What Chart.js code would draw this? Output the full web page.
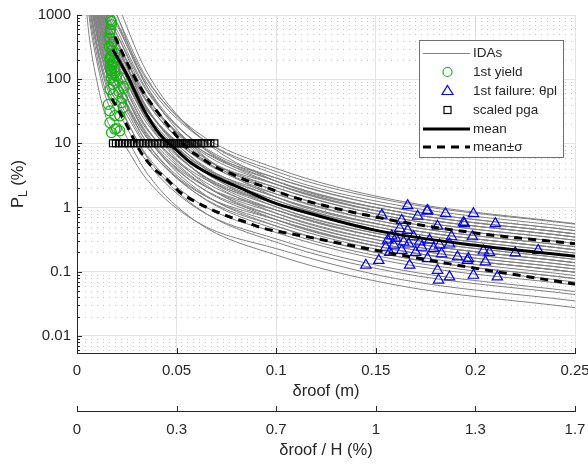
<!DOCTYPE html>
<html>
<head>
<meta charset="utf-8">
<title>IDA curves</title>
<script src="https://cdn.jsdelivr.net/npm/chart.js@4.4.1/dist/chart.umd.min.js"></script>
<style>
  html, body { margin: 0; padding: 0; background: #fff; }
  #wrap { width: 588px; height: 466px; }
</style>
</head>
<body>
<div id="wrap"><canvas id="myChart" width="588" height="466"></canvas></div>
<script>
// drift samples shared by all IDA curves (m)
const idaDrift = [0.003, 0.006, 0.01, 0.015, 0.022, 0.035, 0.06, 0.1, 0.16, 0.25];
// P_L (%) of each IDA curve at idaDrift
const idaCurves = [
  [5000, 501, 93, 23.4, 11.7, 2.75, 0.60, 0.229, 0.078, 0.035],
  [10000, 1000, 186, 46.8, 18.6, 3.47, 0.60, 0.182, 0.062, 0.0275],
  [12600, 1260, 234, 58.9, 25.6, 5.19, 0.98, 0.324, 0.110, 0.049],
  [15800, 1580, 295, 74, 32.2, 6.53, 1.24, 0.407, 0.138, 0.062],
  [20000, 2000, 372, 93, 35.1, 6.17, 1.01, 0.288, 0.098, 0.044],
  [25100, 2510, 468, 117, 48.1, 9.23, 1.65, 0.513, 0.174, 0.078],
  [28200, 2820, 525, 132, 54, 10.4, 1.85, 0.575, 0.195, 0.087],
  [31600, 3160, 589, 148, 62.4, 12.3, 2.26, 0.724, 0.245, 0.110],
  [35500, 3550, 661, 166, 60.6, 10.4, 1.65, 0.457, 0.155, 0.069],
  [39800, 3980, 741, 186, 76.3, 14.6, 2.62, 0.813, 0.275, 0.123],
  [44700, 4470, 832, 209, 78.5, 13.8, 2.26, 0.646, 0.219, 0.098],
  [50100, 5010, 933, 234, 93.3, 17.4, 3.02, 0.912, 0.309, 0.138],
  [56200, 5620, 1050, 263, 108, 20.7, 3.69, 1.15, 0.389, 0.174],
  [63100, 6310, 1175, 295, 105, 17.4, 2.69, 0.724, 0.245, 0.110],
  [70800, 7080, 1320, 331, 132, 24.5, 4.27, 1.29, 0.437, 0.195],
  [79400, 7940, 1480, 372, 136, 23.2, 3.69, 1.02, 0.347, 0.155],
  [89100, 8910, 1660, 417, 161, 29.2, 4.93, 1.45, 0.490, 0.219],
  [100000, 10000, 1860, 468, 166, 27.5, 4.27, 1.15, 0.389, 0.174],
  [100000, 10000, 1860, 468, 186, 34.7, 6.03, 1.82, 0.617, 0.275],
  [112000, 11200, 2090, 525, 171, 26, 3.69, 0.912, 0.309, 0.138],
  [126000, 12600, 2340, 589, 209, 34.7, 5.37, 1.45, 0.490, 0.219],
  [141000, 14100, 2630, 661, 248, 43.7, 7.16, 2.04, 0.692, 0.309],
  [158000, 15800, 2950, 741, 241, 36.7, 5.22, 1.29, 0.437, 0.195],
  [178000, 17800, 3310, 832, 304, 51.9, 8.27, 2.29, 0.776, 0.347],
  [200000, 20000, 3720, 933, 304, 46.2, 6.57, 1.62, 0.550, 0.245],
  [224000, 22400, 4170, 1050, 382, 65.3, 10.4, 2.88, 0.977, 0.437],
  [251000, 25100, 4680, 1175, 372, 55, 7.59, 1.82, 0.617, 0.275],
  [282000, 28200, 5250, 1320, 442, 69.2, 10.1, 2.57, 0.871, 0.389],
  [316000, 31600, 5890, 1480, 525, 87.1, 13.5, 3.63, 1.23, 0.550],
  [398000, 39800, 7410, 1860, 556, 77.6, 10.1, 2.29, 0.776, 0.347],
  [501000, 50100, 9330, 2340, 720, 104, 13.9, 3.24, 1.10, 0.490],
  [63100, 6310, 1175, 295, 128, 26, 4.93, 1.62, 0.550, 0.245],
  [126000, 12600, 2340, 589, 171, 23.2, 2.93, 0.646, 0.219, 0.098],
  [25100, 2510, 468, 117, 55.6, 12.3, 2.54, 0.912, 0.309, 0.138],
  [355000, 35500, 6610, 1660, 589, 97.7, 15.1, 4.07, 1.30, 0.56],
  [70800, 7080, 1320, 331, 152, 32.7, 6.57, 2.29, 0.776, 0.347],
  [1000000, 100000, 18600, 4680, 1140, 130, 13.9, 2.57, 0.871, 0.389],
  [631000, 63100, 11700, 2950, 700, 77.6, 8.04, 1.45, 0.49, 0.219],
  [50100, 5010, 933, 234, 80.8, 13, 1.96, 0.513, 0.174, 0.078],
  [158000, 15800, 2950, 741, 287, 51.9, 8.76, 2.57, 0.871, 0.389],
  [79400, 7940, 1480, 372, 161, 32.7, 6.2, 2.04, 0.692, 0.309],
  [200000, 20000, 3720, 933, 271, 36.7, 4.65, 1.02, 0.347, 0.155],
  [35500, 3550, 661, 166, 76.3, 16.4, 3.29, 1.15, 0.389, 0.174],
  [112000, 11200, 2090, 525, 228, 46.2, 8.76, 2.88, 0.977, 0.437],
  [141000, 14100, 2630, 661, 197, 27.5, 3.59, 0.813, 0.275, 0.123],
  [17800, 1780, 331, 83.2, 39.4, 8.71, 1.80, 0.646, 0.219, 0.098]
];

// 1st yield points
const yieldDrift = [0.0168, 0.0173, 0.0173, 0.0168, 0.0165, 0.0165, 0.0182, 0.0173, 0.0162, 0.0175,
  0.019, 0.017, 0.0165, 0.0165, 0.018, 0.0182, 0.0178, 0.0168, 0.019, 0.0168, 0.0173, 0.019,
  0.0175, 0.0198, 0.0173, 0.0223, 0.0185, 0.0182, 0.0232, 0.0235, 0.0165, 0.021, 0.0182, 0.0228,
  0.0223, 0.0157, 0.0232, 0.0165, 0.019, 0.0215, 0.0165, 0.0198, 0.019, 0.0215, 0.0173];
const yieldPL = [842, 794, 705, 590, 525, 437, 388, 347, 324, 280,
  256, 230, 214, 202, 190, 179, 169, 160, 150, 141, 133, 125,
  120, 111, 105, 105, 95, 83, 78, 72, 69, 64, 58, 51,
  43, 40.5, 36, 32, 27, 26.7, 21, 17, 16.6, 15.6, 14.7];

// 1st failure (theta pl) points
const failDrift = [0.166, 0.176, 0.185, 0.171, 0.153, 0.163, 0.1945, 0.181, 0.162, 0.166,
  0.1985, 0.169, 0.188, 0.177, 0.156, 0.16, 0.1665, 0.173, 0.182, 0.187, 0.163, 0.155, 0.183,
  0.191, 0.1965, 0.1515, 0.167, 0.181, 0.187, 0.1815, 0.199, 0.145, 0.211, 0.205, 0.21, 0.199,
  0.194, 0.204, 0.207, 0.22, 0.2315, 0.1757, 0.196, 0.158, 0.164, 0.172, 0.179, 0.17, 0.157,
  0.176, 0.159];
const failPL = [1.07, 0.90, 0.80, 0.73, 0.76, 0.63, 0.56, 0.51, 0.47, 0.44,
  0.35, 0.35, 0.35, 0.31, 0.31, 0.33, 0.27, 0.24, 0.26, 0.27, 0.215, 0.24, 0.19,
  0.17, 0.16, 0.15, 0.126, 0.105, 0.083, 0.074, 0.088, 0.126, 0.083, 0.142, 0.56, 0.80,
  0.58, 0.21, 0.20, 0.196, 0.215, 0.876, 0.15, 0.36, 0.29, 0.29, 0.23, 0.20, 0.20,
  0.16, 0.26];

// scaled pga points, all drawn at P_L = 10 %
const pgaDrift = [0.018, 0.0195, 0.021, 0.0225, 0.024, 0.0255, 0.027, 0.0285, 0.03, 0.0315,
  0.033, 0.0345, 0.036, 0.0375, 0.039, 0.0405, 0.042, 0.0435, 0.045, 0.046, 0.047, 0.048,
  0.049, 0.05, 0.051, 0.052, 0.053, 0.054, 0.055, 0.056, 0.057, 0.058, 0.059, 0.06, 0.061,
  0.0625, 0.064, 0.0655, 0.067, 0.069];
const pgaLevel = 10;

// mean and mean +/- sigma
const meanDrift = [0.018, 0.025, 0.033, 0.0415, 0.05, 0.058, 0.07, 0.083, 0.098, 0.1115, 0.15, 0.2, 0.25];
const meanPL = [290, 118, 35.8, 13.9, 7.8, 4.75, 2.95, 1.95, 1.21, 0.9, 0.44, 0.257, 0.174];
const upperDrift = [0.019, 0.0265, 0.033, 0.04, 0.048, 0.055, 0.062, 0.07, 0.078, 0.087, 0.095, 0.107, 0.15, 0.2, 0.25];
const upperPL = [460, 148, 65, 32, 15.6, 8.6, 6.0, 4.2, 3.3, 2.5, 2.06, 1.5, 0.71, 0.40, 0.273];
const lowerDrift = [0.0175, 0.024, 0.0317, 0.038, 0.045, 0.0517, 0.059, 0.0675, 0.076, 0.085, 0.093, 0.1115, 0.15, 0.2, 0.25];
const lowerPL = [50, 22, 7.6, 4.2, 2.8, 1.73, 1.25, 0.93, 0.725, 0.59, 0.48, 0.37, 0.215, 0.113, 0.064];

// axes
const xTicks = [0, 0.05, 0.1, 0.15, 0.2, 0.25];
const xTickLabels = ['0', '0.05', '0.1', '0.15', '0.2', '0.25'];
const ratioTickLabels = ['0', '0.3', '0.7', '1', '1.3', '1.7'];
const yTicks = [0.01, 0.1, 1, 10, 100, 1000];
const yMin = 0.0054, yMax = 1000;

const FONT = '"Liberation Sans", Arial, Helvetica, sans-serif';
const TXT = '#262626';
const GRAY = 'rgb(128,128,128)';
const GREEN = 'rgb(20,180,20)';
const BLUE = 'rgb(0,0,255)';

function pts(xs, ys) {
  return xs.map((x, i) => ({ x: x, y: ys[i] }));
}

// minor grid values of the log axis
let minorY = [];
for (let e = -3; e <= 2; e++) {
  for (let k = 2; k <= 9; k++) {
    let v = k * Math.pow(10, e);
    if (v > yMin && v < yMax) minorY.push(v);
  }
}

let datasets = [];
idaCurves.forEach((c, i) => {
  datasets.push({
    label: 'IDA ' + (i + 1),
    data: pts(idaDrift, c),
    borderColor: GRAY,
    borderWidth: 1,
    pointRadius: 0,
    cubicInterpolationMode: 'monotone',
    clip: 0,
    order: 10
  });
});
datasets.push({
  label: '1st yield',
  data: pts(yieldDrift, yieldPL),
  showLine: false,
  pointStyle: 'circle',
  pointRadius: 5,
  pointBorderWidth: 1.2,
  pointBorderColor: GREEN,
  pointBackgroundColor: 'rgba(0,0,0,0)',
  order: 5
});
datasets.push({
  label: '1st failure: θpl',
  data: pts(failDrift, failPL),
  showLine: false,
  pointStyle: 'triangle',
  pointRadius: 6,
  pointBorderWidth: 1.2,
  pointBorderColor: BLUE,
  pointBackgroundColor: 'rgba(0,0,0,0)',
  order: 4
});
datasets.push({
  label: 'scaled pga',
  data: pgaDrift.map(x => ({ x: x, y: pgaLevel })),
  showLine: false,
  pointStyle: 'rect',
  pointRadius: 4.8,
  pointBorderWidth: 1.2,
  pointBorderColor: '#000',
  pointBackgroundColor: 'rgba(0,0,0,0)',
  order: 3
});
datasets.push({
  label: 'mean',
  data: pts(meanDrift, meanPL),
  borderColor: '#000',
  borderWidth: 3,
  pointRadius: 0,
  cubicInterpolationMode: 'monotone',
  clip: 0,
  order: 1
});
[[upperDrift, upperPL], [lowerDrift, lowerPL]].forEach(d => {
  datasets.push({
    label: 'mean±σ',
    data: pts(d[0], d[1]),
    borderColor: '#000',
    borderWidth: 3,
    borderDash: [8, 6],
    pointRadius: 0,
    cubicInterpolationMode: 'monotone',
    clip: 0,
    order: 0
  });
});

function drawLegend(ctx) {
  const bx = 419.5, by = 40.5, bw = 144, bh = 117;
  const rows = [53, 72, 91, 110, 129, 147];
  const lx0 = 423, lx1 = 470, mx = 447.5, tx = 473;
  ctx.save();
  ctx.fillStyle = '#fff';
  ctx.fillRect(bx, by, bw, bh);
  ctx.strokeStyle = '#6e6e6e';
  ctx.lineWidth = 1;
  ctx.strokeRect(bx, by, bw, bh);

  // IDAs
  ctx.strokeStyle = GRAY;
  ctx.lineWidth = 1;
  ctx.beginPath(); ctx.moveTo(lx0, rows[0] + 0.5); ctx.lineTo(lx1, rows[0] + 0.5); ctx.stroke();
  // circle
  ctx.lineWidth = 1.2;
  ctx.strokeStyle = GREEN;
  ctx.beginPath(); ctx.arc(mx, rows[1], 4.5, 0, Math.PI * 2); ctx.stroke();
  // triangle
  ctx.strokeStyle = BLUE;
  ctx.beginPath();
  ctx.moveTo(mx, rows[2] - 5.5);
  ctx.lineTo(mx + 5.5, rows[2] + 3.5);
  ctx.lineTo(mx - 5.5, rows[2] + 3.5);
  ctx.closePath(); ctx.stroke();
  // square
  ctx.strokeStyle = '#000';
  ctx.strokeRect(mx - 3.5, rows[3] - 3.5, 7, 7);
  // mean
  ctx.lineWidth = 3;
  ctx.beginPath(); ctx.moveTo(lx0, rows[4]); ctx.lineTo(lx1, rows[4]); ctx.stroke();
  ctx.setLineDash([8, 6]);
  ctx.beginPath(); ctx.moveTo(lx0, rows[5]); ctx.lineTo(lx1, rows[5]); ctx.stroke();
  ctx.setLineDash([]);

  ctx.fillStyle = TXT;
  ctx.font = '13.5px ' + FONT;
  ctx.textBaseline = 'middle';
  ctx.textAlign = 'left';
  const names = ['IDAs', '1st yield', '1st failure: θpl', 'scaled pga', 'mean', 'mean±σ'];
  names.forEach((n, i) => ctx.fillText(n, tx, rows[i]));
  ctx.restore();
}

const decor = {
  id: 'decor',
  beforeDatasetsDraw(chart) {
    const { ctx, chartArea: a, scales } = chart;
    ctx.save();
    ctx.strokeStyle = '#c4c4c4';
    ctx.lineWidth = 1;
    ctx.setLineDash([1, 5]);
    minorY.forEach(v => {
      let py = Math.round(scales.y.getPixelForValue(v)) + 0.5;
      ctx.beginPath(); ctx.moveTo(a.left + 2, py); ctx.lineTo(a.right, py); ctx.stroke();
    });
    ctx.restore();
  },
  afterDraw(chart) {
    const { ctx, chartArea: a, scales } = chart;
    ctx.save();
    ctx.strokeStyle = TXT;
    ctx.lineWidth = 1;
    // inward ticks on the y axis
    yTicks.forEach(v => {
      let py = Math.round(scales.y.getPixelForValue(v)) + 0.5;
      ctx.beginPath(); ctx.moveTo(a.left, py); ctx.lineTo(a.left + 5, py); ctx.stroke();
    });
    minorY.forEach(v => {
      let py = Math.round(scales.y.getPixelForValue(v)) + 0.5;
      ctx.beginPath(); ctx.moveTo(a.left, py); ctx.lineTo(a.left + 3, py); ctx.stroke();
    });
    // inward ticks on both drift axes
    xTicks.forEach(v => {
      let px = Math.round(scales.x.getPixelForValue(v)) + 0.5;
      ctx.beginPath(); ctx.moveTo(px, a.bottom); ctx.lineTo(px, a.bottom - 5); ctx.stroke();
      let top2 = scales.x2.top;
      ctx.beginPath(); ctx.moveTo(px, top2); ctx.lineTo(px, top2 - 5); ctx.stroke();
    });

    // y title with subscript
    ctx.fillStyle = TXT;
    ctx.translate(18, (a.top + a.bottom) / 2);
    ctx.rotate(-Math.PI / 2);
    ctx.textBaseline = 'middle';
    ctx.textAlign = 'left';
    const big = '16.5px ' + FONT, small = '12px ' + FONT;
    ctx.font = big; let w1 = ctx.measureText('P').width; let w3 = ctx.measureText(' (%)').width;
    ctx.font = small; let w2 = ctx.measureText('L').width;
    let sx = -(w1 + w2 + w3) / 2;
    ctx.font = big; ctx.fillText('P', sx, 0);
    ctx.font = small; ctx.fillText('L', sx + w1, 6);
    ctx.font = big; ctx.fillText(' (%)', sx + w1 + w2, 0);
    ctx.restore();

    drawLegend(ctx);
  }
};

function noSidePadding(s, h) {
  s.height = h;
  s.paddingLeft = 0;
  s.paddingRight = 0;
}

const ctx = document.getElementById('myChart');
const myChart = new Chart(ctx, {
  type: 'line',
  data: { datasets: datasets },
  options: {
    responsive: false,
    animation: false,
    events: [],
    devicePixelRatio: 1,
    layout: { padding: { top: 14, right: 13, bottom: 0, left: 0 } },
    plugins: { legend: { display: false }, tooltip: { enabled: false } },
    scales: {
      x: {
        type: 'linear',
        position: 'bottom',
        min: 0,
        max: 0.25,
        afterFit(s) { noSidePadding(s, 58); },
        afterBuildTicks(s) { s.ticks = xTicks.map(v => ({ value: v })); },
        ticks: {
          callback: (v, i) => xTickLabels[i],
          autoSkip: false,
          maxRotation: 0,
          padding: 9,
          color: TXT,
          font: { family: FONT, size: 15 }
        },
        grid: { color: '#e3e3e3', drawTicks: false },
        border: { color: TXT, width: 1 },
        title: {
          display: true,
          text: 'δroof (m)',
          color: TXT,
          font: { family: FONT, size: 16.5 },
          padding: { top: 0, bottom: 10 }
        }
      },
      x2: {
        type: 'linear',
        position: 'bottom',
        min: 0,
        max: 0.25,
        afterFit(s) { noSidePadding(s, 55); },
        afterBuildTicks(s) { s.ticks = xTicks.map(v => ({ value: v })); },
        ticks: {
          callback: (v, i) => ratioTickLabels[i],
          autoSkip: false,
          maxRotation: 0,
          padding: 10,
          color: TXT,
          font: { family: FONT, size: 15 }
        },
        grid: { drawOnChartArea: false, drawTicks: false },
        border: { display: true, color: TXT, width: 1 },
        title: {
          display: true,
          text: 'δroof / H (%)',
          color: TXT,
          font: { family: FONT, size: 16.5 },
          padding: { top: 0, bottom: 6 }
        }
      },
      y: {
        type: 'logarithmic',
        position: 'left',
        min: yMin,
        max: yMax,
        afterFit(s) { s.width = 77; },
        afterBuildTicks(s) { s.ticks = yTicks.map(v => ({ value: v })); },
        ticks: {
          callback: v => String(v),
          padding: 6,
          color: TXT,
          font: { family: FONT, size: 15 }
        },
        grid: { color: '#e3e3e3', drawTicks: false },
        border: { color: TXT, width: 1 }
      }
    }
  },
  plugins: [decor]
});
</script>
</body>
</html>
